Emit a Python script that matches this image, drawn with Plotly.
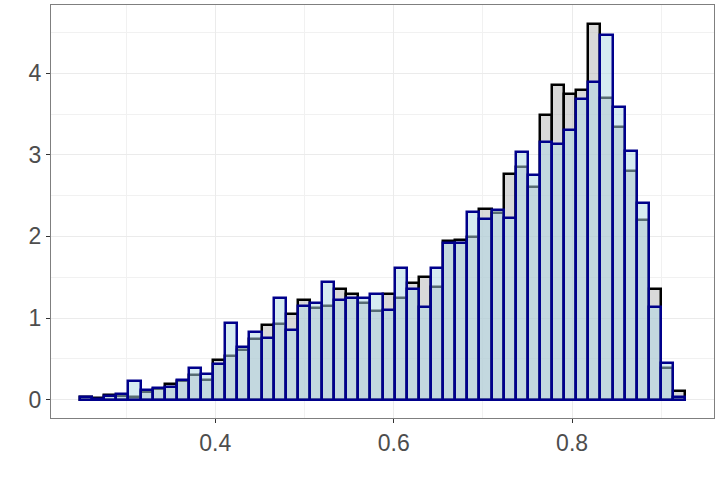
import numpy as np
import plotly.graph_objects as go

# Densidades por bin (50 bins)
BIN_START = 0.2483
BIN_WIDTH = 0.01357

density_grey = [
    0.03, 0.02, 0.06, 0.04, 0.03, 0.09, 0.13, 0.19, 0.23, 0.30,
    0.24, 0.48, 0.54, 0.61, 0.74, 0.91, 0.93, 1.045, 1.22, 1.12,
    1.15, 1.36, 1.29, 1.19, 1.09, 1.30, 1.24, 1.43, 1.50, 1.38,
    1.94, 1.95, 1.99, 2.34, 2.29, 2.77, 2.85, 2.61, 3.49, 3.85,
    3.75, 3.80, 4.60, 3.70, 3.34, 2.80, 2.20, 1.36, 0.39, 0.105,
]
density_blue = [
    0.03, 0.01, 0.05, 0.07, 0.23, 0.12, 0.14, 0.16, 0.24, 0.39,
    0.31, 0.44, 0.94, 0.64, 0.83, 0.755, 1.25, 0.85, 1.15, 1.19,
    1.44, 1.22, 1.25, 1.25, 1.30, 1.10, 1.61, 1.35, 1.13, 1.61,
    1.915, 1.915, 2.30, 2.21, 2.32, 2.22, 3.03, 2.75, 3.16, 3.13,
    3.30, 3.69, 3.89, 4.47, 3.58, 3.05, 2.41, 1.14, 0.445, 0.03,
]

centers = BIN_START + BIN_WIDTH * (np.arange(len(density_grey)) + 0.5)

fig = go.Figure()
fig.add_trace(go.Bar(x=centers, y=density_grey, width=BIN_WIDTH,
                     marker=dict(color="rgba(179,179,179,0.5)",
                                 line=dict(color="black", width=2.5)),
                     showlegend=False))
fig.add_trace(go.Bar(x=centers, y=density_blue, width=BIN_WIDTH,
                     marker=dict(color="rgba(173,216,230,0.5)",
                                 line=dict(color="#00008B", width=2.5)),
                     showlegend=False))

axis_common = dict(showgrid=True, gridcolor="#ebebeb", gridwidth=1,
                   zeroline=False, showline=True, mirror=True,
                   linecolor="#7f7f7f", linewidth=1, automargin=False,
                   ticks="outside", ticklen=4, tickcolor="#333333",
                   tickfont=dict(size=23, color="#4d4d4d"))

fig.update_xaxes(range=[0.2158, 0.9591], tick0=0.4, dtick=0.2,
                 minor=dict(dtick=0.1, showgrid=True, gridcolor="#f1f1f1"),
                 **axis_common)
fig.update_yaxes(range=[-0.2255, 4.836], tick0=0, dtick=1,
                 minor=dict(dtick=0.5, showgrid=True, gridcolor="#f1f1f1"),
                 **axis_common)

fig.update_layout(width=720, height=480, barmode="overlay", bargap=0,
                  plot_bgcolor="white", paper_bgcolor="white",
                  font=dict(family="Liberation Sans, Arial, sans-serif"),
                  margin=dict(l=51, r=6, t=5, b=62))
# quitar el margen por defecto del <body> para que la figura quede en (0, 0)
fig.write_html("out.html", config={"displayModeBar": False},
               post_script="document.body.style.margin='0';")
